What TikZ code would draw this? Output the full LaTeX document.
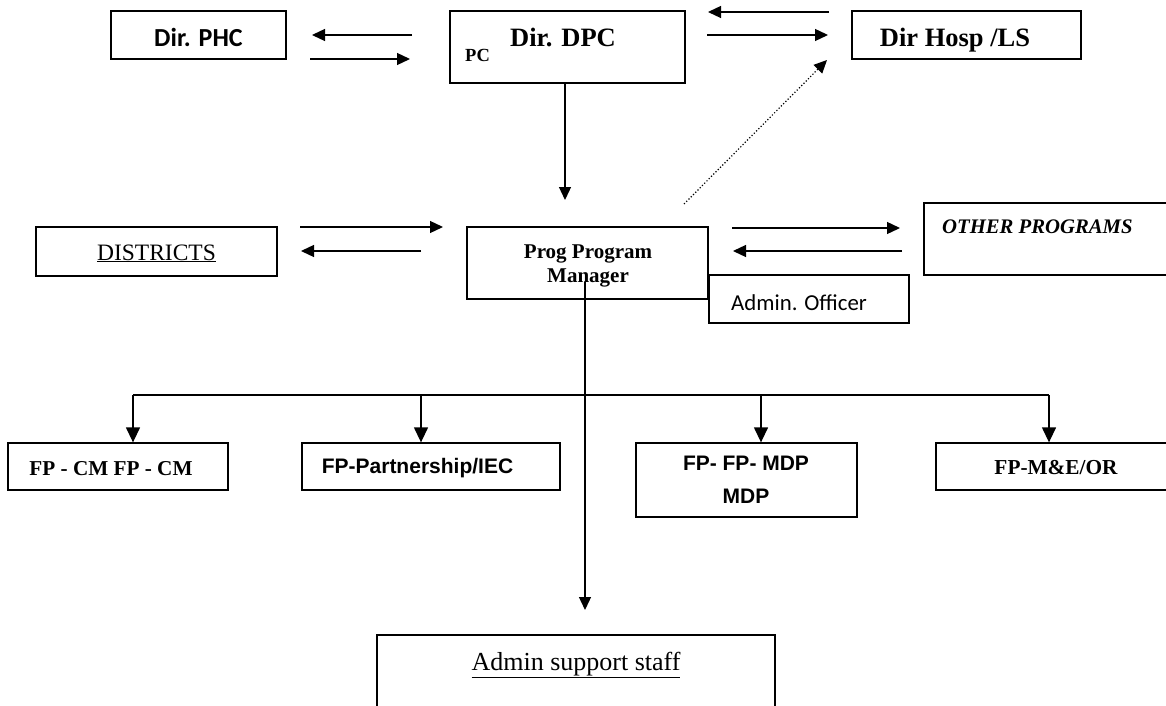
\documentclass[tikz,border=0pt]{standalone}
\usepackage{fontspec}
\usetikzlibrary{arrows.meta}
\newfontfamily\tmsf{Liberation Serif}
\newfontfamily\arlf{Liberation Sans}
\newfontfamily\calibf{Carlito}
\begin{document}
\begin{tikzpicture}[x=1pt,y=-1pt,
  box/.style={draw, line width=1.3pt, rectangle, inner sep=0pt},
  txt/.style={inner sep=0pt, anchor=base},
  conn/.style={line width=1.3pt, -{Triangle[length=13pt,width=12pt]}},
  drop/.style={line width=1.3pt, -{Triangle[length=15pt,width=14pt]}},
  dots/.style={line width=1.2pt, dotted, -{Triangle[length=13pt,width=12pt]}}]
\clip (0,0) rectangle (1166,706);
\fill[white] (0,0) rectangle (1166,706);
% top row
\node[box, minimum width=175pt, minimum height=48pt] (phc) at (198.5,35) {};
\node[txt] (phct) at (198.5,47) {\calibf\bfseries\fontsize{26}{30}\selectfont Dir. PHC};
\node[box, minimum width=235pt, minimum height=72pt] (dpc) at (567.5,47) {};
\node[txt] (dpct) at (563,47) {\tmsf\bfseries\fontsize{26.5}{30}\selectfont Dir. DPC};
\node[txt, anchor=base west] (pct) at (465,62) {\tmsf\bfseries\fontsize{18.5}{22}\selectfont PC};
\node[box, minimum width=229pt, minimum height=48pt] (hosp) at (966.5,35) {};
\node[txt] (hospt) at (955,47) {\tmsf\bfseries\fontsize{26.5}{30}\selectfont Dir Hosp /LS};
% middle row
\node[box, minimum width=241pt, minimum height=49pt] (dist) at (156.5,251.5) {};
\node[txt] (distt) at (156.5,260) {\tmsf\fontsize{23.5}{27}\selectfont \underline{DISTRICTS}};
\node[box, minimum width=241pt, minimum height=72pt] (prog) at (587.5,263) {};
\node[txt] (progt1) at (588,258) {\tmsf\bfseries\fontsize{21}{24}\selectfont Prog Program};
\node[txt] (progt2) at (588,282) {\tmsf\bfseries\fontsize{21}{24}\selectfont Manager};
\node[box, minimum width=200pt, minimum height=48pt] (adm) at (809,299) {};
\node[txt, anchor=base west] (admt) at (731,310) {\calibf\fontsize{22.8}{26}\selectfont Admin. Officer};
\node[box, minimum width=256pt, minimum height=72pt] (oth) at (1052,239) {};
\node[txt, anchor=base west] (otht) at (942,233) {\tmsf\bfseries\itshape\fontsize{20.7}{24}\selectfont OTHER PROGRAMS};
% bottom row
\node[box, minimum width=220pt, minimum height=47pt] (cm) at (118,466.5) {};
\node[txt] (cmt) at (111,475) {\tmsf\bfseries\fontsize{21.2}{24}\selectfont FP - CM FP - CM};
\node[box, minimum width=258pt, minimum height=47pt] (part) at (431,466.5) {};
\node[txt] (partt) at (417.5,473) {\arlf\bfseries\fontsize{21}{24}\selectfont FP-Partnership/IEC};
\node[box, minimum width=221pt, minimum height=74pt] (mdp) at (746.5,480) {};
\node[txt] (mdpt1) at (746,470) {\arlf\bfseries\fontsize{21}{24}\selectfont FP- FP- MDP};
\node[txt] (mdpt2) at (746,503) {\arlf\bfseries\fontsize{21}{24}\selectfont MDP};
\node[box, minimum width=244pt, minimum height=47pt] (me) at (1058,466.5) {};
\node[txt] (met) at (1056,474) {\tmsf\bfseries\fontsize{21.3}{24}\selectfont FP-M\&E/OR};
\node[box, minimum width=398pt, minimum height=85pt] (sup) at (576,677.5) {};
\node[txt] (supt) at (576,670) {\tmsf\fontsize{26}{30}\selectfont \underline{Admin support staff}};
% free arrow ends
\coordinate (a1s) at (412,35); \coordinate (a1e) at (312,35);
\coordinate (a2s) at (310,59); \coordinate (a2e) at (410,59);
\coordinate (a3s) at (829,12); \coordinate (a3e) at (708,12);
\coordinate (a4s) at (707,35); \coordinate (a4e) at (828,35);
\coordinate (dtip) at (565,200);
\coordinate (dots) at (684,204); \coordinate (dote) at (827,60);
\coordinate (a5s) at (300,227); \coordinate (a5e) at (443,227);
\coordinate (a6s) at (421,251); \coordinate (a6e) at (301,251);
\coordinate (a7s) at (732,228); \coordinate (a7e) at (900,228);
\coordinate (a8s) at (902,251); \coordinate (a8e) at (733,251);
\coordinate (pstart) at (585,282); \coordinate (ptip) at (585,610);
\coordinate (busL) at (133,395); \coordinate (busR) at (1049,395);
\coordinate (b2) at (421,395); \coordinate (b3) at (761,395);
% connectors
\draw[conn] (a1s) -- (a1e);
\draw[conn] (a2s) -- (a2e);
\draw[conn] (a3s) -- (a3e);
\draw[conn] (a4s) -- (a4e);
\draw[conn] (dpc.south -| dtip) -- (dtip);
\draw[dots] (dots) -- (dote);
\draw[conn] (a5s) -- (a5e);
\draw[conn] (a6s) -- (a6e);
\draw[conn] (a7s) -- (a7e);
\draw[conn] (a8s) -- (a8e);
\draw[conn] (pstart) -- (ptip);
\draw[line width=1.3pt] (busL) -- (busR);
\draw[drop] (busL) -- (cm.north -| busL);
\draw[drop] (b2) -- (part.north -| b2);
\draw[drop] (b3) -- (mdp.north -| b3);
\draw[drop] (busR) -- (me.north -| busR);
\end{tikzpicture}
\end{document}
